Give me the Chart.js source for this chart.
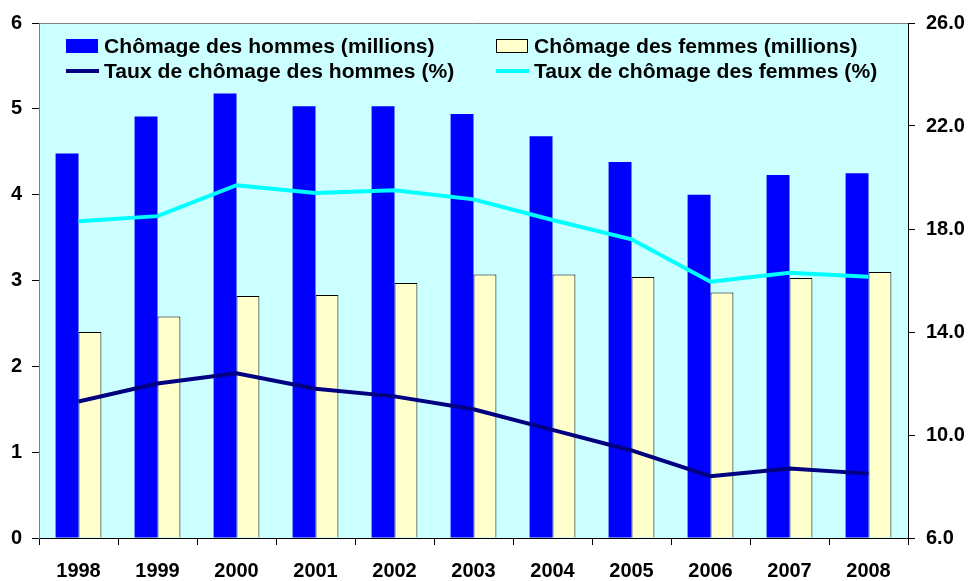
<!DOCTYPE html>
<html>
<head>
<meta charset="utf-8">
<script src="https://cdn.jsdelivr.net/npm/chart.js@4"></script>
<style>
html,body{margin:0;padding:0;background:#fff;}
#wrap{width:968px;height:581px;}
</style>
</head>
<body>
<div id="wrap"><canvas id="c" width="968" height="581"></canvas></div>
<script>
const years = ["1998","1999","2000","2001","2002","2003","2004","2005","2006","2007","2008"];
const chomageHommes = [4.48, 4.91, 5.18, 5.03, 5.03, 4.94, 4.68, 4.38, 4.00, 4.23, 4.25];
const chomageFemmes = [2.40, 2.58, 2.82, 2.83, 2.97, 3.07, 3.07, 3.04, 2.86, 3.03, 3.10];
const tauxHommes = [11.3, 12.0, 12.4, 11.8, 11.5, 11.0, 10.2, 9.4, 8.4, 8.7, 8.5];
const tauxFemmes = [18.3, 18.5, 19.7, 19.4, 19.5, 19.15, 18.35, 17.6, 15.95, 16.3, 16.15];
const leftTicks = [0, 1, 2, 3, 4, 5, 6];
const rightTicks = [6, 10, 14, 18, 22, 26];

const FONT = "'Liberation Sans', Arial, sans-serif";

const bgPlugin = {
  id: 'bg',
  beforeDraw(chart) {
    const {ctx, chartArea: a} = chart;
    ctx.save();
    ctx.fillStyle = '#CCFFFF';
    ctx.fillRect(a.left, a.top, a.right - a.left, a.bottom - a.top);
    ctx.strokeStyle = '#808080';
    ctx.lineWidth = 1;
    ctx.beginPath();
    ctx.moveTo(a.left, a.top + 0.5);
    ctx.lineTo(a.right, a.top + 0.5);
    ctx.stroke();
    ctx.restore();
  }
};

const legendPlugin = {
  id: 'customLegend',
  afterDatasetsDraw(chart) {
    const {ctx, chartArea: a} = chart;
    const ds = chart.data.datasets;
    const cols = [a.left + 27, a.left + 457];
    const rows = [a.top + 23, a.top + 48];
    const items = [
      {d: ds[0], c: 0, r: 0, type: 'box'},
      {d: ds[1], c: 1, r: 0, type: 'box'},
      {d: ds[2], c: 0, r: 1, type: 'line'},
      {d: ds[3], c: 1, r: 1, type: 'line'}
    ];
    ctx.save();
    ctx.font = 'bold 20px ' + FONT;
    ctx.textBaseline = 'middle';
    ctx.textAlign = 'left';
    items.forEach(it => {
      const x = cols[it.c], y = rows[it.r];
      if (it.type === 'box') {
        ctx.fillStyle = it.d.backgroundColor;
        ctx.fillRect(x, y - 7, 32, 14);
        if (it.d.borderWidth) {
          ctx.strokeStyle = it.d.borderColor;
          ctx.lineWidth = 1;
          ctx.strokeRect(x + 0.5, y - 6.5, 31, 13);
        }
      } else {
        ctx.strokeStyle = it.d.borderColor;
        ctx.lineWidth = 4;
        ctx.beginPath();
        ctx.moveTo(x, y);
        ctx.lineTo(x + 33, y);
        ctx.stroke();
      }
      ctx.fillStyle = '#000';
      ctx.save();
      ctx.translate(x + 38, y + 1);
      ctx.scale(1.055, 1);
      ctx.fillText(it.d.label, 0, 0);
      ctx.restore();
    });
    ctx.restore();
  }
};

new Chart(document.getElementById('c'), {
  type: 'bar',
  data: {
    labels: years,
    datasets: [
      {label: 'Chômage des hommes (millions)', data: chomageHommes, backgroundColor: '#0000FF', borderWidth: 0, yAxisID: 'y', order: 2, categoryPercentage: 0.58, barPercentage: 1.0},
      {label: 'Chômage des femmes (millions)', data: chomageFemmes, backgroundColor: '#FFFFCC', borderColor: '#000000', borderWidth: 1, yAxisID: 'y', order: 2, categoryPercentage: 0.58, barPercentage: 1.0},
      {type: 'line', label: 'Taux de chômage des hommes (%)', data: tauxHommes, borderColor: '#000080', backgroundColor: '#000080', borderWidth: 4, pointRadius: 0, tension: 0, yAxisID: 'y1', order: 1},
      {type: 'line', label: 'Taux de chômage des femmes (%)', data: tauxFemmes, borderColor: '#00FFFF', backgroundColor: '#00FFFF', borderWidth: 4, pointRadius: 0, tension: 0, yAxisID: 'y1', order: 1}
    ]
  },
  options: {
    responsive: false,
    animation: false,
    layout: {padding: {top: 22, left: 0, right: 0, bottom: 0}},
    plugins: {legend: {display: false}, tooltip: {enabled: false}},
    scales: {
      x: {
        offset: true,
        grid: {display: true, drawOnChartArea: false, offset: true, tickLength: 7, color: '#000', lineWidth: 1},
        border: {color: '#000', width: 1},
        ticks: {color: '#000', font: {family: FONT, size: 20, weight: 'bold'}, padding: 14, maxRotation: 0},
        afterFit(s) { s.height = 43; }
      },
      y: {
        position: 'left',
        min: 0, max: 6,
        afterBuildTicks(s) { s.ticks = leftTicks.map(v => ({value: v})); },
        grid: {display: true, drawOnChartArea: false, tickLength: 7, color: '#000'},
        border: {color: '#808080', width: 1},
        ticks: {color: '#000', font: {family: FONT, size: 20, weight: 'bold'}, padding: 10},
        afterFit(s) { s.width = 39; }
      },
      y1: {
        position: 'right',
        min: 6, max: 26,
        afterBuildTicks(s) { s.ticks = rightTicks.map(v => ({value: v})); },
        grid: {display: true, drawOnChartArea: false, tickLength: 7, color: '#000'},
        border: {color: '#000', width: 1},
        ticks: {color: '#000', font: {family: FONT, size: 20, weight: 'bold'}, padding: 11, callback: v => Number(v).toFixed(1)},
        afterFit(s) { s.width = 60; }
      }
    }
  },
  plugins: [bgPlugin, legendPlugin]
});
</script>
</body>
</html>
